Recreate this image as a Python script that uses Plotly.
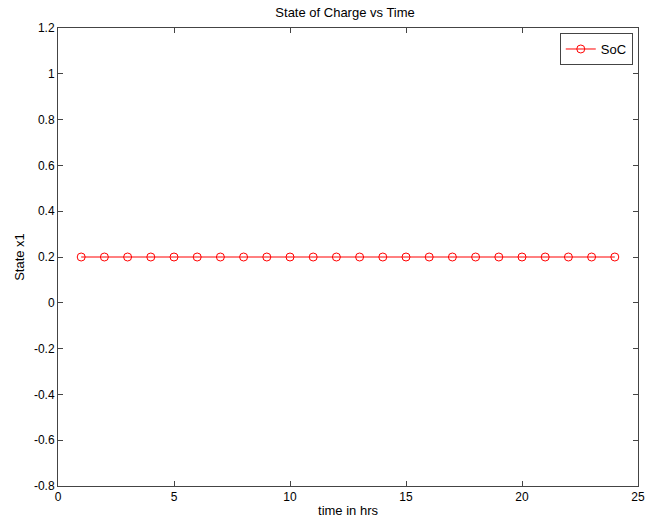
import plotly.graph_objects as go

hours = list(range(1, 25))
soc = [0.2] * 24

FONT = "Liberation Sans, Arial"

fig = go.Figure()
fig.add_trace(go.Scatter(
    x=hours, y=soc, mode="lines+markers", name="SoC",
    line=dict(color="red", width=1),
    marker=dict(symbol="circle-open", size=8, color="red", line=dict(width=1)),
))

axis_common = dict(
    showgrid=False, zeroline=False, showline=True, linecolor="#444", linewidth=1,
    mirror="ticks", ticks="inside", ticklen=5, tickcolor="#444", automargin=False,
    tickfont=dict(family=FONT, size=12, color="black"),
)

fig.update_layout(
    width=645, height=523,
    margin=dict(l=58, r=7, t=28, b=37),
    paper_bgcolor="white", plot_bgcolor="white",
    title=dict(text="State of Charge vs Time", x=0.535, xanchor="center", y=0.977, yanchor="middle",
               font=dict(family=FONT, size=13, color="black")),
    xaxis=dict(range=[0, 25], tickvals=[0, 5, 10, 15, 20, 25],
               title=dict(text="time in hrs", standoff=2,
                          font=dict(family=FONT, size=13, color="black")),
               **axis_common),
    yaxis=dict(range=[-0.8, 1.2], tickvals=[-0.8, -0.6, -0.4, -0.2, 0, 0.2, 0.4, 0.6, 0.8, 1, 1.2],
               ticktext=["-0.8", "-0.6", "-0.4", "-0.2", "0", "0.2", "0.4", "0.6", "0.8", "1", "1.2"],
               title=dict(text="State x1", standoff=6,
                          font=dict(family=FONT, size=13, color="black")),
               **axis_common),
    showlegend=True,
    legend=dict(x=0.991, xanchor="right", y=0.989, yanchor="top",
                bordercolor="#444", borderwidth=1, bgcolor="white",
                font=dict(family=FONT, size=13, color="black"),
                itemwidth=30),
)

fig.write_html("out.html")
